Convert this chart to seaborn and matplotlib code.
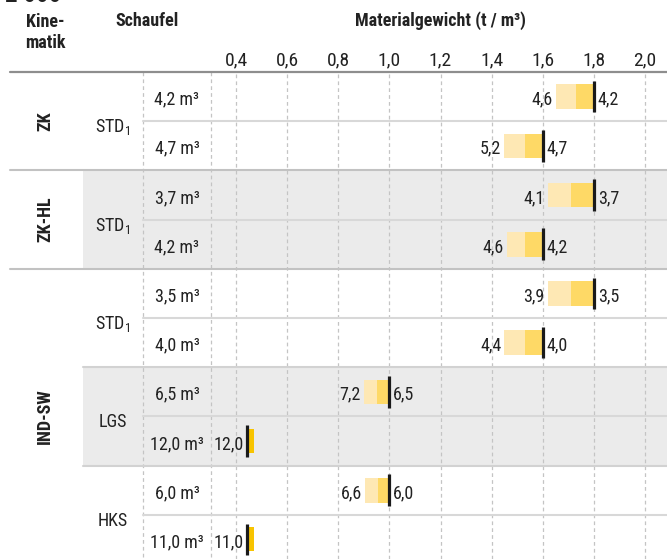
import numpy as np
import matplotlib
matplotlib.use("Agg")
import matplotlib.pyplot as plt
import seaborn as sns

# --- data ---------------------------------------------------------------
groups = ["ZK", "ZK-HL", "IND-SW"]
group_rows = [(0, 1), (2, 3), (4, 9)]
buckets = ["STD$_\\mathregular{1}$", "STD$_\\mathregular{1}$", "STD$_\\mathregular{1}$", "LGS", "HKS"]
bucket_rows = [(0, 1), (2, 3), (4, 5), (6, 7), (8, 9)]
volumes = ["4,2 m³", "4,7 m³", "3,7 m³", "4,2 m³", "3,5 m³",
           "4,0 m³", "6,5 m³", "12,0 m³", "6,0 m³", "11,0 m³"]
dens_nominal = [1.80, 1.60, 1.80, 1.60, 1.80, 1.60, 1.00, 0.443, 1.00, 0.443]
dens_mid = [1.73, 1.53, 1.71, 1.53, 1.71, 1.53, 0.95, np.nan, 0.955, np.nan]
dens_low = [1.65, 1.45, 1.62, 1.46, 1.62, 1.45, 0.90, np.nan, 0.905, np.nan]
dens_heavy = [np.nan] * 7 + [0.472, np.nan, 0.472]
label_low = ["4,6", "5,2", "4,1", "4,6", "3,9", "4,4", "7,2", "12,0", "6,6", "11,0"]
label_high = ["4,2", "4,7", "3,7", "4,2", "3,5", "4,0", "6,5", "", "6,0", ""]
ticks = [0.4, 0.6, 0.8, 1.0, 1.2, 1.4, 1.6, 1.8, 2.0]
shaded_rows = [(2, 3), (6, 7)]

# --- style --------------------------------------------------------------
sns.set_style("white")
plt.rcParams["font.family"] = ["Roboto Condensed", "Open Sans Condensed",
                               "Liberation Sans Narrow", "Roboto", "DejaVu Sans"]
plt.rcParams["font.stretch"] = "condensed"
plt.rcParams["mathtext.default"] = "regular"

W, H = 667, 559
TXT = "#222222"
LIGHT, MID, HEAVY = "#FEE8B4", "#FED966", "#F8C400"
FS = 13

fig = plt.figure(figsize=(W / 100, H / 100), dpi=100)
top_px = 72
ax = fig.add_axes([0, 0, 1, 1 - top_px / H])

px_per_unit = (645 - 236) / 1.6
x0 = 0.4 - 236 / px_per_unit
ax.set_xlim(x0, x0 + W / px_per_unit)
row_px = 49.2
ax.set_ylim(-0.5 + (H - top_px) / row_px, -0.5)
for s in ax.spines.values():
    s.set_visible(False)

def fx(p):
    return p / W

def fy(p):
    return 1 - p / H

# shaded bands
for a, b in shaded_rows:
    ax.axhspan(a - 0.5, b + 0.5, xmin=fx(83), xmax=1, color="#EBEBEB", lw=0, zorder=0.1)

# grid
ax.set_axisbelow(True)
ax.grid(axis="x", ls=(0, (3, 2.5)), color="#C4C4C4", lw=0.9)
ax.grid(axis="y", visible=False)
yt = ax.get_yaxis_transform()
for p in (143, 211):
    ax.plot([fx(p), fx(p)], [-0.5, 10], transform=yt, ls=(0, (3, 2.5)),
            color="#C4C4C4", lw=0.9, zorder=0.5)

# row separators
for r in range(10):
    y = r + 0.5
    if r in (1, 3):
        ax.axhline(y, xmin=fx(10), color="#C2C2C2", lw=1.5, zorder=1)
    elif r in (5, 7):
        ax.axhline(y, xmin=fx(83), color="#D2D2D2", lw=1.5, zorder=1)
    elif r < 9:
        ax.axhline(y, xmin=fx(143), color="#D8D8D8", lw=1.5, zorder=1)
ax.axhline(-0.5, xmin=fx(10), color="#8E8E8E", lw=1.6, zorder=1, clip_on=False)

# bars
rows = np.arange(len(volumes))
low = np.array(dens_low)
mid = np.array(dens_mid)
nom = np.array(dens_nominal)
heavy = np.array(dens_heavy)
ax.barh(rows, mid - low, left=low, height=0.5, color=LIGHT, lw=0, zorder=3)
ax.barh(rows, nom - mid, left=mid, height=0.5, color=MID, lw=0, zorder=3)
ax.barh(rows, heavy - (nom + 0.008), left=nom + 0.008, height=0.49, color=HEAVY, lw=0, zorder=3)
ax.vlines(nom, rows - 0.32, rows + 0.32, color="#1A1A1A", lw=2.3, zorder=4)

d = 3 / px_per_unit
for r in rows:
    left_edge = low[r] if not np.isnan(low[r]) else nom[r]
    ax.text(left_edge - d, r + 0.06, label_low[r], ha="right", va="center",
            fontsize=FS, color=TXT, zorder=5)
    if label_high[r]:
        ax.text(nom[r] + 1.3 * d, r + 0.06, label_high[r], ha="left", va="center",
                fontsize=FS, color=TXT, zorder=5)
    ax.text(fx(177), r + 0.06, volumes[r], transform=yt, ha="center", va="center",
            fontsize=FS, color=TXT)

for name, (a, b) in zip(buckets, bucket_rows):
    ax.text(fx(113), (a + b) / 2 + 0.12, name, transform=yt, ha="center", va="center",
            fontsize=FS, color=TXT)
for name, (a, b) in zip(groups, group_rows):
    ax.text(fx(45), (a + b) / 2, name, transform=yt, ha="center", va="center",
            rotation=90, fontsize=FS, fontweight="bold", color=TXT)

# ticks on top
ax.xaxis.tick_top()
ax.set_xticks(ticks)
ax.set_xticklabels([f"{t:.1f}".replace(".", ",") for t in ticks], fontsize=14, color=TXT)
ax.tick_params(axis="x", length=0, pad=2)
ax.set_yticks([])

# header
fig.text(fx(5), fy(1.5), "2 000", ha="left", va="baseline", fontsize=18,
         fontweight="bold", color=TXT)
fig.text(fx(45), fy(22), "Kine-", ha="center", va="center", fontsize=FS,
         fontweight="bold", color=TXT)
fig.text(fx(45), fy(43), "matik", ha="center", va="center", fontsize=FS,
         fontweight="bold", color=TXT)
fig.text(fx(147), fy(21), "Schaufel", ha="center", va="center", fontsize=FS,
         fontweight="bold", color=TXT)
fig.text(fx(440), fy(21), "Materialgewicht (t / m³)", ha="center", va="center",
         fontsize=FS, fontweight="bold", color=TXT)

fig.savefig("out.png", dpi=100)
